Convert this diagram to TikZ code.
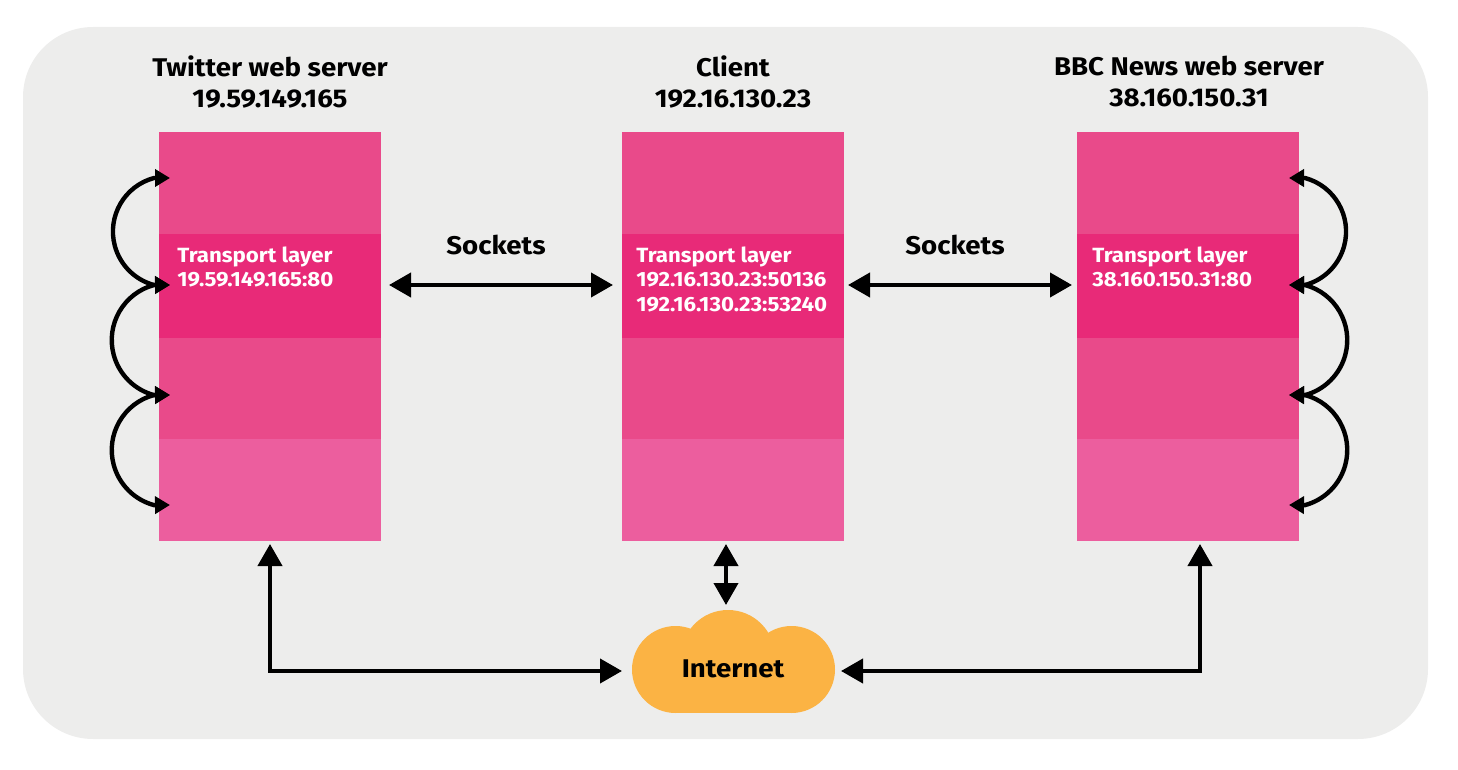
\documentclass[tikz,border=0pt]{standalone}
\usepackage{fontspec}
\setmainfont{Fira Sans}[FakeStretch=1.08]
\usetikzlibrary{arrows.meta}
\definecolor{panelgray}{HTML}{EDEDEC}
\definecolor{layerpink}{HTML}{E94A8A}
\definecolor{layerdeep}{HTML}{E82A78}
\definecolor{layerpale}{HTML}{EC5E9E}
\definecolor{cloudorange}{HTML}{FBB344}
\tikzset{
  layerbox/.style={fill=#1,minimum width=111pt,inner sep=0pt,outer sep=0pt,anchor=north west},
  hosttitle/.style={align=center,font=\bfseries\fontsize{12.8}{15.5}\selectfont},
  plainlabel/.style={font=\bfseries\fontsize{12.8}{15}\selectfont},
  portlabel/.style={anchor=north west,align=left,inner sep=0pt,text=white,font=\bfseries\fontsize{10.3}{12.4}\selectfont},
  bigarrow/.style={line width=2pt,{Triangle[length=11pt,width=12pt]}-{Triangle[length=11pt,width=12pt]}},
  hoparrow/.style={line width=2.2pt,{Triangle[length=7.5pt,width=8.5pt]}-{Triangle[length=7.5pt,width=8.5pt]}},
}
\begin{document}
\begin{tikzpicture}[x=0.5pt,y=-0.5pt]
   \useasboundingbox (0,0) rectangle (1458,770);
   \fill[panelgray,rounded corners=35pt] (23,27) rectangle (1428,739);
 %
   \node[hosttitle] (twname) at (270,82) {Twitter web server\\19.59.149.165};
   \node[hosttitle] (clname) at (733,82) {Client\\192.16.130.23};
   \node[hosttitle] (bbname) at (1189,82) {BBC News web server\\38.160.150.31};
 %
   \node[layerbox=layerpink,minimum height=51pt] (twa) at (159,132) {};
   \node[layerbox=layerdeep,minimum height=52pt] (twb) at (159,234) {};
   \node[layerbox=layerpink,minimum height=50.5pt] (twc) at (159,338) {};
   \node[layerbox=layerpale,minimum height=51pt] (twd) at (159,439) {};
   \node[layerbox=layerpink,minimum height=51pt] (cla) at (622,132) {};
   \node[layerbox=layerdeep,minimum height=52pt] (clb) at (622,234) {};
   \node[layerbox=layerpink,minimum height=50.5pt] (clc) at (622,338) {};
   \node[layerbox=layerpale,minimum height=51pt] (cld) at (622,439) {};
   \node[layerbox=layerpink,minimum height=51pt] (bba) at (1077,132) {};
   \node[layerbox=layerdeep,minimum height=52pt] (bbb) at (1077,234) {};
   \node[layerbox=layerpink,minimum height=50.5pt] (bbc) at (1077,338) {};
   \node[layerbox=layerpale,minimum height=51pt] (bbd) at (1077,439) {};
 %
   \node[portlabel] (twport) at (177,246) {Transport layer\\19.59.149.165:80};
   \node[portlabel] (clport) at (636,246) {Transport layer\\192.16.130.23:50136\\192.16.130.23:53240};
   \node[portlabel] (bbport) at (1092,246) {Transport layer\\38.160.150.31:80};
 %
   \node[plainlabel] (sockl) at (496,245) {Sockets};
   \node[plainlabel] (sockr) at (955,245) {Sockets};
 %
   \fill[cloudorange] (675.5,669.5) circle[radius=43.5];
   \fill[cloudorange] (791.5,669.5) circle[radius=43.5];
   \fill[cloudorange] (728,657) circle[radius=47];
   \fill[cloudorange] (675.5,655) rectangle (791.5,713);
   \node[plainlabel] (internet) at (733,669) {Internet};
 %
   \coordinate (ta) at (170,178);
   \coordinate (tb) at (170,285);
   \coordinate (tc) at (170,395);
   \coordinate (td) at (170,505);
   \coordinate (ba) at (1289,178);
   \coordinate (bb) at (1289,285);
   \coordinate (bc) at (1289,395);
   \coordinate (bd) at (1289,505);
   \draw[hoparrow] (ta) -- ++(-16,0) arc[start angle=105,end angle=255,radius=27.7pt] -- (tb);
   \draw[hoparrow] (tb) -- ++(-16,0) arc[start angle=105,end angle=255,radius=28.5pt] -- (tc);
   \draw[hoparrow] (tc) -- ++(-16,0) arc[start angle=105,end angle=255,radius=28.5pt] -- (td);
   \draw[hoparrow] (ba) -- ++(16,0) arc[start angle=75,end angle=-75,radius=27.7pt] -- (bb);
   \draw[hoparrow] (bb) -- ++(16,0) arc[start angle=75,end angle=-75,radius=28.5pt] -- (bc);
   \draw[hoparrow] (bc) -- ++(16,0) arc[start angle=75,end angle=-75,radius=28.5pt] -- (bd);
 %
   \coordinate (twe) at (389,285);
   \coordinate (clw) at (613,285);
   \coordinate (cle) at (848,285);
   \coordinate (bbw) at (1072,285);
   \draw[bigarrow] (twe) -- (clw);
   \draw[bigarrow] (cle) -- (bbw);
 %
   \coordinate (twfoot) at (270,544);
   \coordinate (clfoot) at (726,544);
   \coordinate (bbfoot) at (1200,544);
   \coordinate (cloudn) at (726,605);
   \coordinate (cloudw) at (622,671);
   \coordinate (cloude) at (841,671);
   \draw[bigarrow] (clfoot) -- (cloudn);
   \draw[bigarrow] (twfoot) |- (cloudw);
   \draw[bigarrow] (bbfoot) |- (cloude);
\end{tikzpicture}
\end{document}
